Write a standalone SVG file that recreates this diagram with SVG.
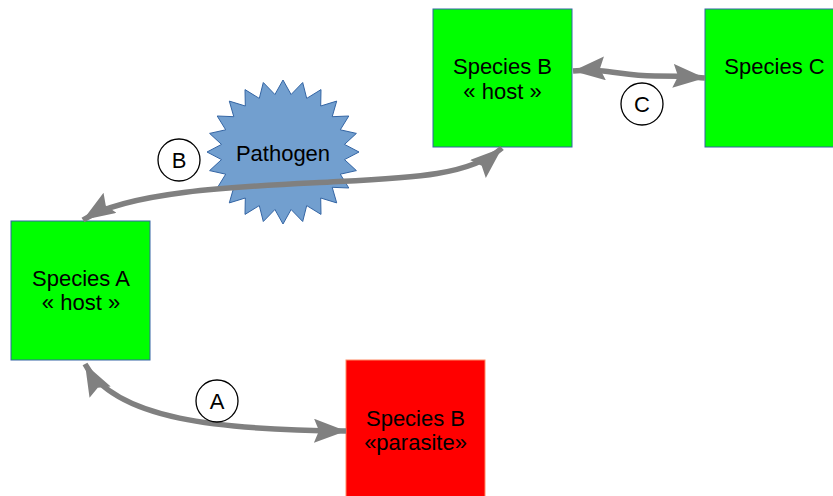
<svg xmlns="http://www.w3.org/2000/svg" width="833" height="496" viewBox="0 0 833 496">
  <style>
    .host { fill: #00ff00; stroke: #3465a4; stroke-width: 1; }
    .parasite { fill: #ff0000; stroke: #ff8a65; stroke-width: 1; }
    .star { fill: #729fcf; stroke: #3465a4; stroke-width: 1; }
    .lbl { font-family: "Liberation Sans", Arial, sans-serif; font-size: 22px; fill: #000; text-anchor: middle; }
    .conn { fill: none; stroke: #808080; stroke-width: 5.5; marker-start: url(#head); marker-end: url(#head); }
    .tag { fill: #fff; stroke: #000; stroke-width: 1.3; }
  </style>
  <defs>
    <marker id="head" markerUnits="userSpaceOnUse" viewBox="0 0 34 26" markerWidth="34" markerHeight="26" refX="32" refY="12" orient="auto-start-reverse">
      <path d="M0 0 L32 12 L0 24 L5 12 Z" fill="#808080"/>
    </marker>
  </defs>
  <rect width="833" height="496" fill="#fff"/>

  <g id="speciesBHost">
    <rect class="host" x="433" y="9" width="139" height="138"/>
    <text class="lbl" x="502.5" y="74">Species B</text>
    <text class="lbl" x="502.5" y="99">« host »</text>
  </g>

  <g id="speciesC">
    <rect class="host" x="705" y="9" width="139" height="138"/>
    <text class="lbl" x="774.5" y="74">Species C</text>
  </g>

  <g id="speciesAHost">
    <rect class="host" x="11" y="221" width="139" height="139"/>
    <text class="lbl" x="81" y="286">Species A</text>
    <text class="lbl" x="81" y="310">« host »</text>
  </g>

  <g id="speciesBParasite">
    <rect class="parasite" x="346" y="360" width="139" height="140"/>
    <text class="lbl" x="415.5" y="426">Species B</text>
    <text class="lbl" x="415.5" y="450">«parasite»</text>
  </g>

  <g id="pathogen">
    <polygon class="star" transform="translate(283,152)" points="76,0 61.5,7.6 73.4,18.6 57.3,22.2 65.8,36 49.2,35.3 53.7,50.9 37.7,46 38,62.4 23.7,53.6 19.7,69.5 8.1,57.5 0,72 -8.1,57.5 -19.7,69.5 -23.7,53.6 -38,62.4 -37.7,46 -53.7,50.9 -49.2,35.3 -65.8,36 -57.3,22.2 -73.4,18.6 -61.5,7.6 -76,0 -61.5,-7.6 -73.4,-18.6 -57.3,-22.2 -65.8,-36 -49.2,-35.3 -53.7,-50.9 -37.7,-46 -38,-62.4 -23.7,-53.6 -19.7,-69.5 -8.1,-57.5 0,-72 8.1,-57.5 19.7,-69.5 23.7,-53.6 38,-62.4 37.7,-46 53.7,-50.9 49.2,-35.3 65.8,-36 57.3,-22.2 73.4,-18.6 61.5,-7.6"/>
    <text class="lbl" x="283" y="161">Pathogen</text>
  </g>

  <g id="connectors">
    <path id="linkA" class="conn" d="M85 364 C115 420 220 430 346 431"/>
    <path id="linkB" class="conn" d="M83 220 C130 190 250 186 330 182 S470 176 502 148"/>
    <path id="linkC" class="conn" d="M573 71 C610 68 620 76 655 76 S690 77 705 78"/>
    <g id="tagA"><circle class="tag" cx="217" cy="401" r="21"/><text class="lbl" x="217" y="409">A</text></g>
    <g id="tagB"><circle class="tag" cx="179" cy="160" r="21"/><text class="lbl" x="179" y="168">B</text></g>
    <g id="tagC"><circle class="tag" cx="642" cy="104" r="21"/><text class="lbl" x="642" y="112">C</text></g>
  </g>
</svg>
